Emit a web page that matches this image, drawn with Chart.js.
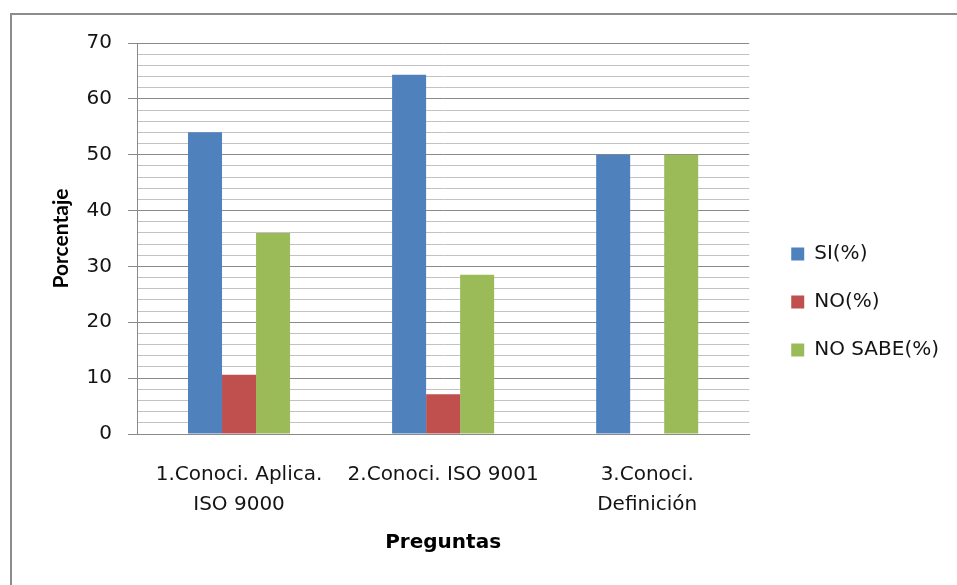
<!DOCTYPE html>
<html>
<head>
<meta charset="utf-8">
<script src="https://cdn.jsdelivr.net/npm/chart.js@4/dist/chart.umd.min.js"></script>
<style>
  html, body { margin: 0; padding: 0; background: #ffffff; }
  #wrap { width: 957px; height: 585px; }
</style>
</head>
<body>
<div id="wrap"><canvas id="chart" width="957" height="585"></canvas></div>
<script>
// Survey questions (category axis)
const categories = [
  ['1.Conoci. Aplica.', 'ISO 9000'],
  '2.Conoci. ISO 9001',
  ['3.Conoci.', 'Definición']
];

// Answer shares per question, in percent
const siValues     = [54, 64.3, 50];
const noValues     = [10.6, 7.1, 0];
const noSabeValues = [36, 28.5, 50];

const seriesNames = ['SI(%)', 'NO(%)', 'NO SABE(%)'];

// Value axis
const yMin = 0;
const yMax = 70;
const yMinorStep = 2;
const yMajorStep = 10;

const TEXT = '#141414';
const MAJOR_GRID = '#8a8a8a';
const MINOR_GRID = '#c2c2c2';

// Outer frame around the chart
const framePlugin = {
  id: 'frame',
  beforeDraw(chart) {
    const ctx = chart.ctx;
    ctx.save();
    ctx.fillStyle = '#ffffff';
    ctx.fillRect(0, 0, chart.width, chart.height);
    ctx.strokeStyle = '#8c8c8c';
    ctx.lineWidth = 2;
    ctx.strokeRect(11, 14, chart.width + 20, chart.height + 20);
    ctx.restore();
  }
};

// Leave a gap between the plot area and the legend entries
const legendGapPlugin = {
  id: 'legendGap',
  afterLayout(chart) {
    const lg = chart.legend;
    if (!lg) return;
    const shift = 14;
    lg.left += shift;
    lg.right += shift;
  }
};

const isMajor = v => Math.abs(v % yMajorStep) < 1e-9;

new Chart(document.getElementById('chart'), {
  type: 'bar',
  data: {
    labels: categories,
    datasets: [
      { label: seriesNames[0], data: siValues,     backgroundColor: '#4f81bd', borderWidth: 0 },
      { label: seriesNames[1], data: noValues,     backgroundColor: '#c0504d', borderWidth: 0 },
      { label: seriesNames[2], data: noSabeValues, backgroundColor: '#9bbb59', borderWidth: 0 }
    ]
  },
  options: {
    responsive: false,
    animation: false,
    devicePixelRatio: 1,
    layout: { padding: { left: 10, top: 43, right: 22, bottom: 24 } },
    datasets: {
      bar: { categoryPercentage: 0.5, barPercentage: 1.0 }
    },
    plugins: {
      tooltip: { enabled: false },
      legend: {
        position: 'right',
        align: 'center',
        labels: {
          boxWidth: 13,
          boxHeight: 13,
          padding: 28,
          color: TEXT,
          font: { family: 'DejaVu Sans', size: 20 }
        }
      }
    },
    scales: {
      x: {
        grid: { display: false },
        border: { display: true, color: MAJOR_GRID, width: 1 },
        ticks: {
          autoSkip: false,
          maxRotation: 0,
          minRotation: 0,
          padding: 18,
          color: TEXT,
          font: { family: 'DejaVu Sans', size: 20, lineHeight: 1.5 }
        },
        title: {
          display: true,
          text: 'Preguntas',
          color: '#000000',
          padding: { top: 0, bottom: 6 },
          font: { family: 'DejaVu Sans', size: 20, weight: 'bold' }
        },
        afterFit(scale) { scale.height = 127; }
      },
      y: {
        min: yMin,
        max: yMax,
        grid: {
          color: ctx => isMajor(ctx.tick.value) ? MAJOR_GRID : MINOR_GRID,
          tickColor: ctx => isMajor(ctx.tick.value) ? MAJOR_GRID : 'rgba(0,0,0,0)',
          tickLength: 9,
          lineWidth: 1
        },
        border: { display: true, color: MAJOR_GRID, width: 1 },
        ticks: {
          stepSize: yMinorStep,
          autoSkip: false,
          padding: 16,
          color: TEXT,
          font: { family: 'DejaVu Sans', size: 20 },
          callback: v => isMajor(v) ? String(v) : ''
        },
        title: {
          display: true,
          text: 'Porcentaje',
          color: '#000000',
          padding: { top: 39, bottom: 0 },
          font: { family: 'Lato', size: 21, weight: 'bold' }
        },
        afterFit(scale) { scale.width = 127; }
      }
    }
  },
  plugins: [framePlugin, legendGapPlugin]
});
</script>
</body>
</html>
